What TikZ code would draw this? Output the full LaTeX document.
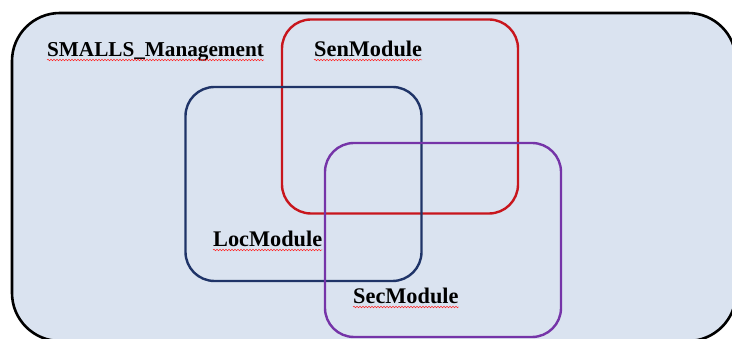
\documentclass[tikz,border=0pt]{standalone}
\usepackage{fontspec}
\setmainfont{Liberation Serif}
\usetikzlibrary{decorations.pathmorphing}
\definecolor{panelfill}{HTML}{DAE3F0}
\definecolor{senred}{HTML}{C8161D}
\definecolor{locnavy}{HTML}{1F3468}
\definecolor{secpurple}{HTML}{7534A8}
\tikzset{
  modbox/.style={draw, line width=2.4pt, rounded corners=29pt,
    minimum width=236pt, minimum height=194pt, inner sep=0pt},
  modlabel/.style={anchor=base west, inner sep=0pt,
    font=\fontsize{22.3}{25}\selectfont\bfseries},
  spell/.style={draw=red!85!white, line width=0.5pt,
    decorate, decoration={snake, amplitude=0.8pt, segment length=3pt}}
}
\begin{document}
\begin{tikzpicture}[x=1pt,y=1pt]
  \useasboundingbox (0,0) rectangle (732,339);
  \clip (0,0) rectangle (732,339);
  \fill[white] (0,0) rectangle (732,339);
  % enclosing management area
  \node[draw=black, fill=panelfill, line width=2.6pt, rounded corners=48pt,
        minimum width=724pt, minimum height=328pt, inner sep=0pt]
        (mgmt) at (374,162) {};
  % the three modules
  \node[modbox, draw=senred]    (sen) at (400,222.5) {};
  \node[modbox, draw=locnavy]   (loc) at (303.5,155) {};
  \node[modbox, draw=secpurple] (sec) at (443,99) {};
  % labels
  \node[modlabel, font=\fontsize{21.2}{24}\selectfont\bfseries]
       (mgmtlbl) at (47,282) {SMALLS\_Management};
  \node[modlabel] (senlbl)  at (314,282) {SenModule};
  \node[modlabel] (loclbl)  at (213,92) {LocModule};
  \node[modlabel] (seclbl)  at (353,35) {SecModule};
  % spell-check underlines
  \foreach \n in {mgmtlbl,senlbl,loclbl,seclbl}
    \draw[spell] ([yshift=-3pt]\n.base west) -- ([yshift=-3pt]\n.base east);
\end{tikzpicture}
\end{document}
